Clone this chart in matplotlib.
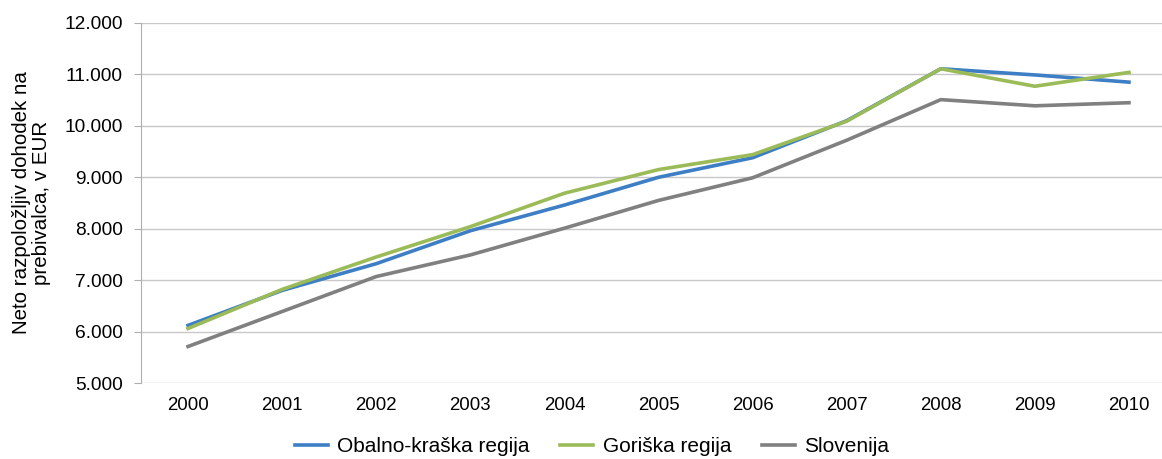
import matplotlib.pyplot as plt
import matplotlib.ticker as mticker

# Data
years = ['2000', '2001', '2002', '2003', '2004', '2005',
         '2006', '2007', '2008', '2009', '2010']
obalno_kraska = [6120, 6800, 7320, 7960, 8460, 9000, 9380, 10100, 11110, 10990, 10850]
goriska = [6060, 6820, 7450, 8040, 8690, 9150, 9440, 10090, 11110, 10770, 11040]
slovenija = [5710, 6390, 7070, 7490, 8010, 8550, 8990, 9720, 10510, 10390, 10450]

plt.rcParams['font.family'] = ['Liberation Sans', 'DejaVu Sans']

fig = plt.figure(figsize=(11.62, 4.59), dpi=100)
ax = fig.add_axes([141 / 1162, 76 / 459, 1035 / 1162, 360 / 459])

x = range(len(years))
ax.plot(x, obalno_kraska, color='#3d7ec4', linewidth=2.6, label='Obalno-kraška regija')
ax.plot(x, goriska, color='#9bbb59', linewidth=2.6, label='Goriška regija')
ax.plot(x, slovenija, color='#808080', linewidth=2.6, label='Slovenija')

ax.set_xlim(-0.5, len(years) - 0.5)
ax.set_ylim(5000, 12000)
ax.set_xticks(list(x))
ax.set_xticklabels(years)
ax.set_yticks(range(5000, 12001, 1000))
ax.yaxis.set_major_formatter(
    mticker.FuncFormatter(lambda v, p: '{:,.0f}'.format(v).replace(',', '.')))

# Excel-like styling
ax.grid(axis='y', color='#c8c8c8', linewidth=1.0)
ax.set_axisbelow(True)
for side in ['top', 'right', 'bottom']:
    ax.spines[side].set_visible(False)
ax.spines['left'].set_color('#b0b0b0')
ax.tick_params(axis='y', length=5, color='#b0b0b0', labelsize=13.8, pad=8)
ax.tick_params(axis='x', length=0, labelsize=13.4, pad=10)

ax.set_ylabel('Neto razpoložljiv dohodek na\nprebivalca, v EUR', fontsize=14.8,
              linespacing=1.05, labelpad=10)

fig.legend(loc='center', bbox_to_anchor=(592 / 1162, 1 - 447 / 459), ncol=3,
           frameon=False, fontsize=15, handlelength=1.6, columnspacing=1.45,
           handletextpad=0.45)

fig.savefig('out.png', dpi=100)
